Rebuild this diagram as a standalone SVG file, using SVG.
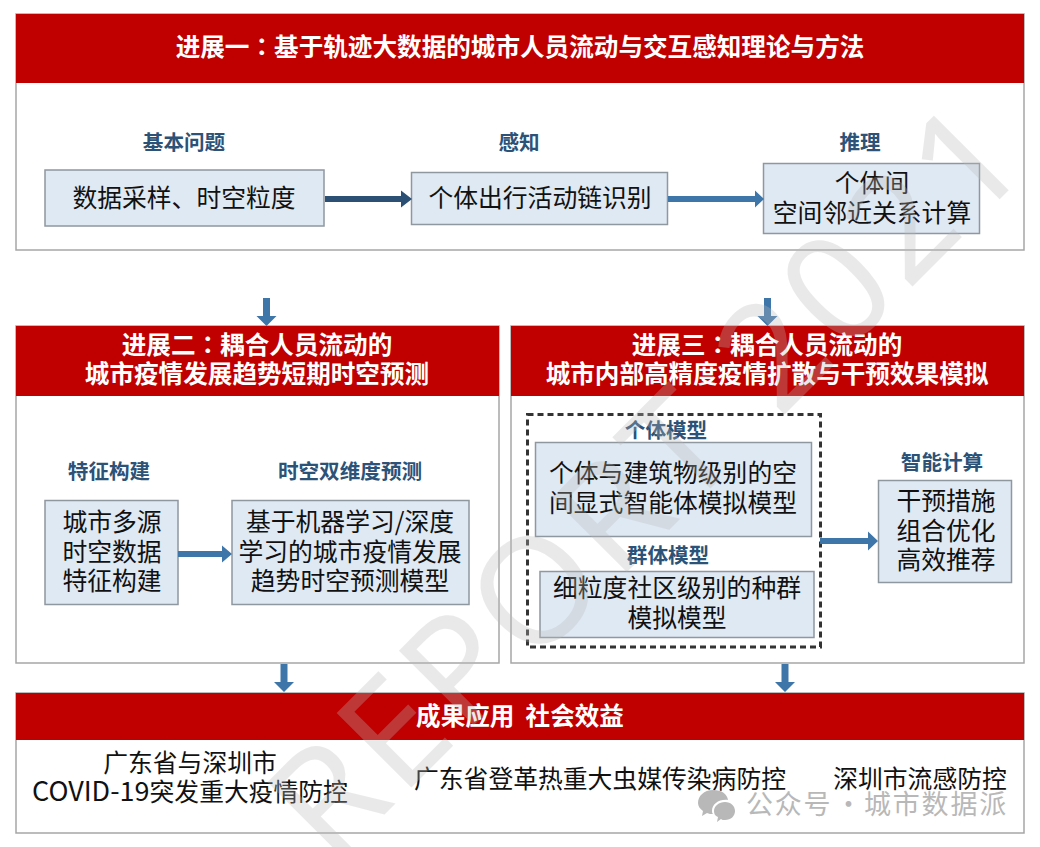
<svg xmlns="http://www.w3.org/2000/svg" width="1040" height="847" viewBox="0 0 1040 847">
<style>
text{font-family:"Noto Sans CJK SC","Liberation Sans",sans-serif;text-anchor:middle}
.frame{fill:#fff;stroke:#a6a6a6;stroke-width:1.5}
.hd{fill:#c00000}
.box{fill:#dfe9f3;stroke:#8f979f;stroke-width:1.5}
.t{font-size:24.6px;font-weight:700;fill:#fff}
.cn{font-family:"Noto Sans CJK TC",sans-serif}
.l{font-size:20.6px;font-weight:700;fill:#2c5277}
.b{font-size:24.8px;fill:#111}
.sd{fill:#2c4f74}
.sa{fill:#3f76aa}
.wm{font-family:"Noto Sans",sans-serif;font-size:148px;letter-spacing:5.800px;fill:#bababa;opacity:.3;text-anchor:start}
.wx{font-size:27px;fill:#b8b8b8;letter-spacing:1.800px;text-anchor:start}
</style>
<defs>
<path id="down" d="M-3.500 0H3.500V18H10L0 28L-10 18H-3.500Z"/>
</defs>
<g id="panel-1">
<rect class="frame" x="16" y="14" width="1008" height="236"/>
<rect class="hd" x="16" y="14" width="1008" height="69"/>
<text class="t" x="520" y="56">进展一<tspan class="cn">：</tspan>基于轨迹大数据的城市人员流动与交互感知理论与方法</text>
</g>
<g id="node-basic">
<text class="l" x="184" y="150">基本问题</text>
<rect class="box" x="45" y="170" width="279" height="56"/>
<text class="b" x="184" y="207">数据采样、时空粒度</text>
</g>
<g id="node-sense">
<text class="l" x="519" y="150">感知</text>
<rect class="box" x="411.500" y="172.500" width="256" height="52"/>
<text class="b" x="540" y="207">个体出行活动链识别</text>
</g>
<g id="node-reason">
<text class="l" x="860" y="150">推理</text>
<rect class="box" x="763.500" y="163.500" width="216" height="70"/>
<text class="b" x="872" y="192">个体间</text>
<text class="b" x="872" y="222">空间邻近关系计算</text>
</g>
<g id="panel-2">
<rect class="frame" x="16" y="326" width="483" height="337"/>
<rect class="hd" x="16" y="326" width="483" height="70"/>
<text class="t" x="257" y="354">进展二<tspan class="cn">：</tspan>耦合人员流动的</text>
<text class="t" x="257" y="383">城市疫情发展趋势短期时空预测</text>
</g>
<g id="node-feature">
<text class="l" x="109" y="479">特征构建</text>
<rect class="box" x="45" y="500.500" width="133" height="104"/>
<text class="b" x="112" y="531">城市多源</text>
<text class="b" x="112" y="561">时空数据</text>
<text class="b" x="112" y="590">特征构建</text>
</g>
<g id="node-forecast">
<text class="l" x="350" y="479">时空双维度预测</text>
<rect class="box" x="232" y="500.500" width="237" height="104"/>
<text class="b" x="350" y="531">基于机器学习/深度</text>
<text class="b" x="350" y="561">学习的城市疫情发展</text>
<text class="b" x="350" y="590">趋势时空预测模型</text>
</g>
<g id="panel-3">
<rect class="frame" x="511" y="326" width="513" height="337"/>
<rect class="hd" x="511" y="326" width="513" height="70"/>
<text class="t" x="767" y="354">进展三<tspan class="cn">：</tspan>耦合人员流动的</text>
<text class="t" x="767" y="383">城市内部高精度疫情扩散与干预效果模拟</text>
</g>
<g id="group-models">
<rect x="527.500" y="414.500" width="293" height="232.500" fill="none" stroke="#333" stroke-width="3" stroke-dasharray="6 4"/>
</g>
<g id="node-agent">
<text class="l" x="666" y="438">个体模型</text>
<rect class="box" x="535.500" y="442.500" width="276" height="94"/>
<text class="b" x="673" y="482">个体与建筑物级别的空</text>
<text class="b" x="673" y="512">间显式智能体模拟模型</text>
</g>
<g id="node-population">
<text class="l" x="668" y="563">群体模型</text>
<rect class="box" x="540" y="571.500" width="274" height="66"/>
<text class="b" x="677" y="597">细粒度社区级别的种群</text>
<text class="b" x="677" y="627">模拟模型</text>
</g>
<g id="node-intelligent">
<text class="l" x="942" y="470">智能计算</text>
<rect class="box" x="878.500" y="480.500" width="133" height="102"/>
<text class="b" x="946" y="510">干预措施</text>
<text class="b" x="946" y="540">组合优化</text>
<text class="b" x="946" y="569">高效推荐</text>
</g>
<g id="panel-4">
<rect class="frame" x="16" y="693" width="1008" height="140"/>
<rect class="hd" x="16" y="693" width="1008" height="47"/>
<text class="t" x="520" y="725" xml:space="preserve">成果应用  社会效益</text>
<text class="b" x="190" y="772">广东省与深圳市</text>
<text class="b" x="190" y="801"><tspan font-size="27">COVID-19</tspan>突发重大疫情防控</text>
<text class="b" x="600" y="788">广东省登革热重大虫媒传染病防控</text>
<text class="b" x="920" y="788">深圳市流感防控</text>
</g>
<g id="connectors">
<path class="sd" d="M325 196H401V190.500L412 199L401 207.500V202H325Z"/>
<path class="sa" d="M668 196H755V190.500L764 199L755 207.500V202H668Z"/>
<path class="sa" d="M178 551H222V545.500L232 554L222 562.500V557H178Z"/>
<path class="sa" d="M820 538H868V531.500L878 541L868 550.500V544H820Z"/>
<use class="sa" href="#down" x="266.500" y="298"/>
<use class="sa" href="#down" x="767.500" y="298"/>
<use class="sa" href="#down" x="284" y="664"/>
<use class="sa" href="#down" x="785" y="664"/>
</g>
<g id="watermark">
<text class="wm" x="332" y="867" transform="rotate(-45 332 867)">REPORT 2021</text>
<path d="M698 803c0-7 6-13 15-13s14 4 15 10c-9-1-16 4-16 11 0 1 0 2 1 3-2 0-4 0-6-1l-5 3 1-5c-3-2-5-5-5-8z" fill="#b8b8b8"/>
<path d="M714 811c0-5 5-9 11-9s10 4 10 9-4 9-10 9c-2 0-3 0-4-1l-4 3 1-5c-3-1-4-3-4-6z" fill="#b8b8b8"/>
<text class="wx" y="814"><tspan x="746">公众号</tspan><tspan class="cn" x="835">·</tspan><tspan x="864">城市数据派</tspan></text>
</g>
</svg>
